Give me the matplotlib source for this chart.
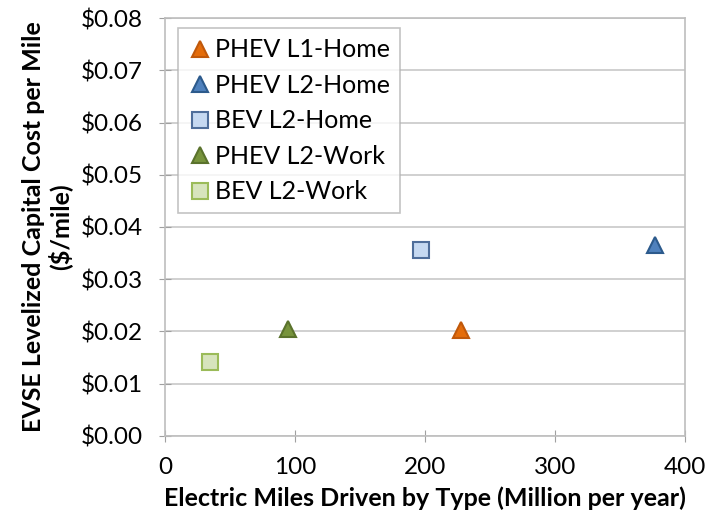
import matplotlib
matplotlib.use('Agg')
import matplotlib.pyplot as plt
from matplotlib.ticker import FuncFormatter, MultipleLocator

plt.rcParams["font.family"] = ["Lato", "DejaVu Sans"]

labels = ['PHEV L1-Home', 'PHEV L2-Home', 'BEV L2-Home', 'PHEV L2-Work', 'BEV L2-Work']
miles = [228, 377, 197, 95, 35]
cost = [0.0203, 0.0366, 0.0356, 0.0205, 0.0142]
markers = ['^', '^', 's', '^', 's']
faces = ['#E46C0A', '#4F81BD', '#C6D9F1', '#77933C', '#D7E4BD']
edges = ['#C0580A', '#2C5A8C', '#4F6E9A', '#5A722C', '#9BBB59']

fs = 18

fig = plt.figure(figsize=(7.08, 5.24), dpi=100)
ax = fig.add_axes([0.233, 0.168, 0.7345, 0.7976])

for x, y, lab, m, fc, ec in zip(miles, cost, labels, markers, faces, edges):
    ms = 12 if m == '^' else 11
    ax.plot([x], [y], linestyle='none', marker=m, markersize=ms,
            markerfacecolor=fc, markeredgecolor=ec, markeredgewidth=1.5, label=lab)

ax.set_xlim(0, 400)
ax.set_ylim(0, 0.08)
ax.xaxis.set_major_locator(MultipleLocator(100))
ax.yaxis.set_major_locator(MultipleLocator(0.01))
ax.yaxis.set_major_formatter(FuncFormatter(lambda v, p: '${:.2f}'.format(v)))

ax.grid(True, axis='y', color='#C8C8C8', linewidth=1.2)
ax.set_axisbelow(True)
for s in ax.spines.values():
    s.set_color('#BEBEBE')
    s.set_linewidth(1.2)
ax.tick_params(direction='inout', length=8, color='#A0A0A0', labelsize=17.5)
ax.tick_params(axis='y', pad=12)
ax.tick_params(axis='x', pad=11)

ax.set_xlabel('Electric Miles Driven by Type (Million per year)', fontsize=fs,
              fontweight='bold', labelpad=6)
ax.set_ylabel('EVSE Levelized Capital Cost per Mile\n($/mile)', fontsize=fs,
              fontweight='bold', labelpad=6, linespacing=1.1)

leg = ax.legend(loc='upper left', bbox_to_anchor=(0.025, 0.975), fontsize=fs,
                frameon=True, fancybox=False, handletextpad=0.1, handlelength=1.0,
                borderpad=0.4, labelspacing=0.5, borderaxespad=0)
leg.get_frame().set_edgecolor('#B4B4B4')
leg.get_frame().set_linewidth(1.2)

fig.savefig('out.png', dpi=100)
